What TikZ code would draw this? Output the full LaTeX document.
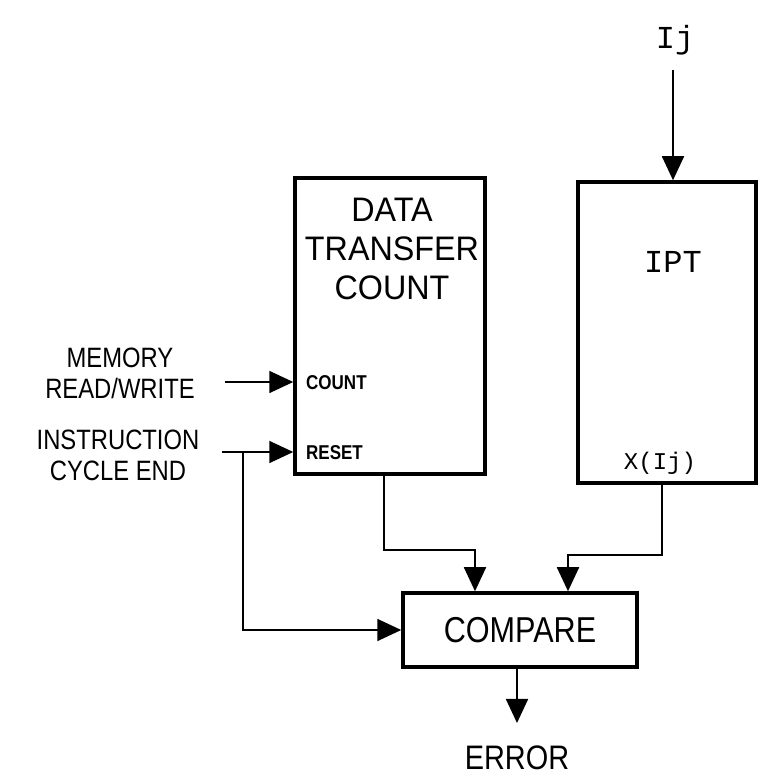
\documentclass[tikz,border=0pt]{standalone}
\usepackage{fontspec}
\setmainfont[FakeStretch=0.85]{Liberation Sans}
\newfontfamily\wdfont[FakeStretch=0.95]{Liberation Sans}
\newfontfamily\plotmono{Liberation Mono}
\usetikzlibrary{arrows.meta}
\tikzset{
  blk/.style={draw, line width=3.5pt, inner sep=0pt},
  sig/.style={line width=1.8pt, -{Triangle[length=24pt,width=22pt]}},
  lbl/.style={inner sep=0pt, align=center}
}
\begin{document}
\begin{tikzpicture}[x=1pt,y=1pt]
	\useasboundingbox (0,0) rectangle (758,777);
	% blocks
	\draw (390,451) node[blk, minimum width=190pt, minimum height=296pt] (dtc) {};
	\draw (667,444.5) node[blk, minimum width=178pt, minimum height=301pt] (ipt) {};
	\draw (520,147) node[blk, minimum width=234pt, minimum height=74pt, font=\fontsize{36}{40}\selectfont] (cmp) {COMPARE};
	% texts
	\draw (392,528) node[lbl, font=\wdfont\fontsize{34}{39}\selectfont] (dtctxt) {DATA\\TRANSFER\\COUNT};
	\draw (673,515) node[lbl, font=\plotmono\fontsize{32}{36}\selectfont] (ipttxt) {IPT};
	\draw (660,314) node[lbl, font=\plotmono\fontsize{24}{28}\selectfont] (xij) {X(Ij)};
	\draw (675,737) node[lbl, font=\plotmono\fontsize{32}{36}\selectfont] (ij) {Ij};
	\draw (306,394) node[lbl, anchor=west, font=\bfseries\fontsize{20}{24}\selectfont] (pcnt) {COUNT};
	\draw (306,324) node[lbl, anchor=west, font=\bfseries\fontsize{20}{24}\selectfont] (prst) {RESET};
	\draw (120,404) node[lbl, font=\fontsize{28}{31}\selectfont] (memlbl) {MEMORY\\READ/WRITE};
	\draw (118,322) node[lbl, font=\fontsize{28}{31}\selectfont] (instlbl) {INSTRUCTION\\CYCLE END};
	\draw (517,19) node[lbl, font=\fontsize{34}{38}\selectfont] (err) {ERROR};
	% signals
	\coordinate (ijs) at (673,707);
	\draw[sig] (ijs) -- (ijs |- ipt.north);
	\coordinate (memin) at (225,395);
	\draw[sig] (memin) -- (memin -| dtc.west);
	\coordinate (rstin) at (222,325);
	\draw[sig] (rstin) -- (rstin -| dtc.west);
	\coordinate (rstbr) at (243,325);
	\draw[sig] (rstbr) |- (cmp.west);
	\draw[sig] ([xshift=-6pt]dtc.south) -- ++(0,-74) -| ([xshift=-45pt]cmp.north);
	\draw[sig] ([xshift=-5pt]ipt.south) -- ++(0,-70) -| ([xshift=48pt]cmp.north);
	\coordinate (errtip) at (517,54);
	\draw[sig] (cmp.south -| errtip) -- (errtip);
\end{tikzpicture}
\end{document}
